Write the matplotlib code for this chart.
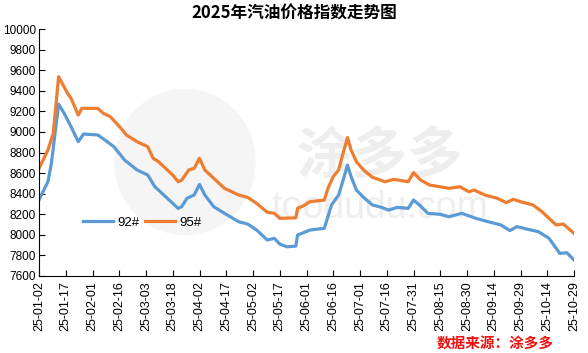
import pandas as pd
import matplotlib
matplotlib.use('Agg')
import matplotlib.pyplot as plt
import matplotlib.dates as mdates
from matplotlib.patches import Ellipse

plt.rcParams['font.family'] = ['Liberation Sans', 'Noto Sans CJK SC', 'DejaVu Sans']

# 92# 汽油价格指数 (日期, 数值)
fechas_92 = ['2025-01-02', '2025-01-07', '2025-01-09', '2025-01-13', '2025-01-16', '2025-01-18',
             '2025-01-20', '2025-01-24', '2025-01-27', '2025-02-04', '2025-02-08', '2025-02-13',
             '2025-02-19', '2025-02-26', '2025-03-04', '2025-03-08', '2025-03-11', '2025-03-18',
             '2025-03-21', '2025-03-23', '2025-03-26', '2025-03-30', '2025-04-02', '2025-04-05',
             '2025-04-10', '2025-04-16', '2025-04-24', '2025-04-29', '2025-05-04', '2025-05-10',
             '2025-05-14', '2025-05-17', '2025-05-21', '2025-05-26', '2025-05-27', '2025-06-03',
             '2025-06-11', '2025-06-13', '2025-06-15', '2025-06-19', '2025-06-21', '2025-06-24',
             '2025-06-26', '2025-06-29', '2025-07-03', '2025-07-08', '2025-07-13', '2025-07-17',
             '2025-07-22', '2025-07-28', '2025-07-31', '2025-08-04', '2025-08-08', '2025-08-15',
             '2025-08-20', '2025-08-27', '2025-09-04', '2025-09-11', '2025-09-18', '2025-09-23',
             '2025-09-27', '2025-10-03', '2025-10-09', '2025-10-15', '2025-10-21', '2025-10-25',
             '2025-10-29']
valores_92 = [8340, 8516, 8700, 9270, 9184, 9116,
              9050, 8905, 8980, 8970, 8921, 8856,
              8727, 8630, 8581, 8467, 8419, 8306,
              8257, 8273, 8355, 8387, 8490, 8387,
              8273, 8209, 8127, 8105, 8047, 7950,
              7966, 7910, 7884, 7890, 7998, 8047,
              8063, 8176, 8290, 8387, 8500, 8678,
              8565, 8435, 8364, 8290, 8267, 8241,
              8267, 8257, 8338, 8280, 8209, 8199,
              8176, 8209, 8160, 8127, 8096, 8041,
              8080, 8054, 8031, 7966, 7820, 7826,
              7755]

# 95# 汽油价格指数
fechas_95 = ['2025-01-02', '2025-01-07', '2025-01-10', '2025-01-13', '2025-01-16', '2025-01-18',
             '2025-01-20', '2025-01-24', '2025-01-26', '2025-02-04', '2025-02-07', '2025-02-11',
             '2025-02-17', '2025-02-20', '2025-02-26', '2025-03-04', '2025-03-07', '2025-03-10',
             '2025-03-18', '2025-03-21', '2025-03-23', '2025-03-27', '2025-03-30', '2025-04-02',
             '2025-04-05', '2025-04-10', '2025-04-16', '2025-04-24', '2025-04-29', '2025-05-04',
             '2025-05-10', '2025-05-14', '2025-05-17', '2025-05-26', '2025-05-27', '2025-05-30',
             '2025-06-03', '2025-06-11', '2025-06-13', '2025-06-16', '2025-06-19', '2025-06-21',
             '2025-06-24', '2025-06-26', '2025-06-29', '2025-07-03', '2025-07-08', '2025-07-15',
             '2025-07-20', '2025-07-28', '2025-07-31', '2025-08-04', '2025-08-09', '2025-08-20',
             '2025-08-26', '2025-08-31', '2025-09-03', '2025-09-09', '2025-09-16', '2025-09-21',
             '2025-09-25', '2025-09-29', '2025-10-06', '2025-10-11', '2025-10-19', '2025-10-23',
             '2025-10-29']
valores_95 = [8646, 8824, 8986, 9536, 9440, 9375,
              9326, 9164, 9229, 9229, 9181, 9148,
              9035, 8970, 8905, 8856, 8744, 8711,
              8581, 8516, 8532, 8630, 8646, 8744,
              8630, 8549, 8452, 8387, 8364, 8306,
              8219, 8209, 8160, 8165, 8257, 8280,
              8322, 8338, 8452, 8565, 8630, 8760,
              8945, 8824, 8711, 8630, 8559, 8516,
              8539, 8516, 8604, 8532, 8484, 8452,
              8467, 8419, 8435, 8387, 8355, 8313,
              8345, 8322, 8290, 8225, 8096, 8105,
              8015]

fig = plt.figure(figsize=(5.88, 3.53), dpi=100)
ax = fig.add_axes([39 / 588, 1 - 276 / 353, 535 / 588, 247 / 353])
ax.set_facecolor('none')

# marca de agua (logo + texto gris claro), detras del grafico
fig.patches.append(Ellipse((185 / 588, 1 - 162 / 353), 140 / 588, 145 / 353,
                           transform=fig.transFigure, color='#f5f5f5', zorder=-5))
fig.text(380 / 588, 1 - 157 / 353, '涂多多', fontsize=40, color='#eeeeee', ha='center',
         va='center', fontweight='bold', family='Noto Sans CJK SC', zorder=-4)
fig.text(380 / 588, 1 - 208 / 353, 'toodudu.com', fontsize=27, color='#eeeeee', ha='center',
         va='center', zorder=-4)

ax.plot(pd.to_datetime(fechas_92), valores_92, color='#5B9BD5', lw=2.3, label='92#')
ax.plot(pd.to_datetime(fechas_95), valores_95, color='#ED7D31', lw=2.3, label='95#')

ax.set_xlim(pd.Timestamp('2025-01-02'), pd.Timestamp('2025-10-29'))
ax.set_ylim(7600, 10000)
ax.set_yticks(range(7600, 10001, 200))
ax.set_xticks(pd.date_range('2025-01-02', '2025-10-29', freq='15D'))
ax.xaxis.set_major_formatter(mdates.DateFormatter('%y-%m-%d'))
plt.setp(ax.get_xticklabels(), rotation=90)
ax.tick_params(axis='x', direction='in', length=4, labelsize=9, pad=4)
ax.tick_params(axis='y', direction='in', length=4, labelsize=8.5, pad=2)
ax.spines['top'].set_visible(False)
ax.spines['right'].set_visible(False)

ax.legend(loc='center left', bbox_to_anchor=(0.06, 0.215), ncol=2, frameon=False,
          handlelength=2.3, handletextpad=0.3, columnspacing=0.4, fontsize=9.5)

fig.text(0.5, 1 - 13 / 353, '2025年汽油价格指数走势图', ha='center', va='center',
         fontsize=12, fontweight='bold', family='Noto Sans CJK SC')
fig.text(495 / 588, 1 - 343 / 353, '数据来源：涂多多', ha='center', va='center',
         fontsize=10.5, fontweight='bold', color='#ee1111', family='Noto Sans CJK SC')

fig.savefig('out.png', dpi=100)
